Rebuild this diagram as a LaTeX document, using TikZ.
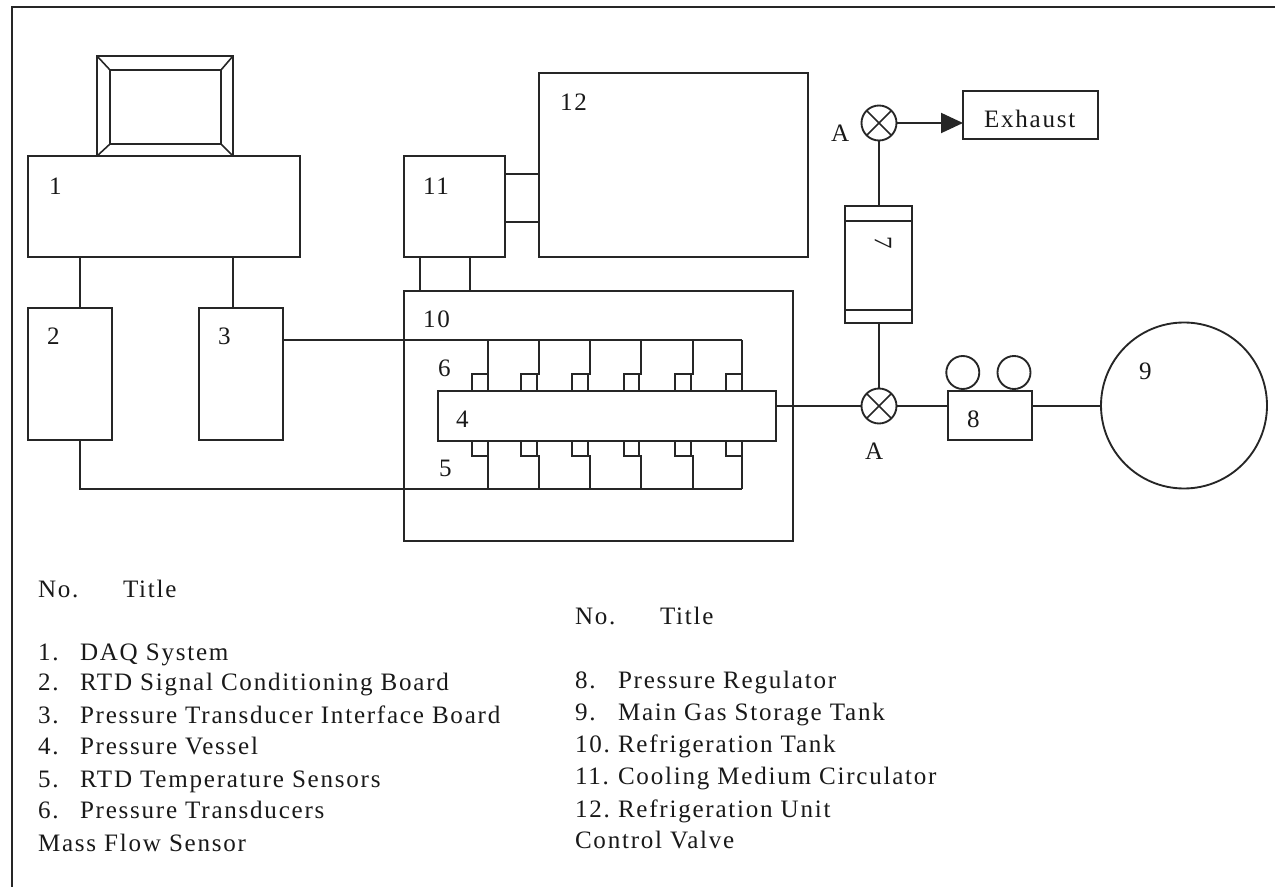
\documentclass[tikz,border=0pt]{standalone}
\usepackage{fontspec}
\setmainfont[LetterSpace=7]{Liberation Serif}
\usetikzlibrary{arrows.meta}
\tikzset{
  ln/.style={line width=1.5pt,black!85},
  pbox/.style={draw=black!85,line width=1.5pt,rectangle,inner sep=0pt,outer sep=0pt},
  disc/.style={draw=black!85,line width=1.4pt,circle,inner sep=0pt,outer sep=0pt},
  txt/.style={anchor=base west,inner sep=0pt,outer sep=0pt,text=black!90,font=\fontsize{18.8pt}{22pt}\selectfont},
  flow/.style={ln,-{Triangle[length=16.5pt,width=15pt]}},
}
\newcommand{\pxbox}[5]{%
  \pgfmathsetmacro{\bw}{(#4-#2)*0.75}%
  \pgfmathsetmacro{\bh}{(#5-#3)*0.75}%
  \pgfmathsetmacro{\bx}{(#2+#4)/2}%
  \pgfmathsetmacro{\by}{(#3+#5)/2}%
  \node[pbox,minimum width=\bw pt,minimum height=\bh pt] (#1) at (\bx,\by) {};}
\begin{document}
\begin{tikzpicture}[x=0.75pt,y=-0.75pt]
\useasboundingbox (0,0) rectangle (1275,887);
% frame
\coordinate (fa) at (12,887);
\coordinate (fb) at (12,7);
\coordinate (fc) at (1275,7);
\draw[ln] (fa) -- (fb) -- (fc);
% monitor
\pxbox{monout}{97}{56}{233}{156}
\pxbox{monin}{110}{70}{221}{144}
\draw[ln,line width=1.2pt] (monout.north west) -- (monin.north west);
\draw[ln,line width=1.2pt] (monout.north east) -- (monin.north east);
\draw[ln,line width=1.2pt] (monout.south west) -- (monin.south west);
\draw[ln,line width=1.2pt] (monout.south east) -- (monin.south east);
% main boxes
\pxbox{b1}{28}{156}{300}{257}
\pxbox{b2}{28}{308}{112}{440}
\pxbox{b3}{199}{308}{283}{440}
\pxbox{b10}{404}{291}{793}{541}
\pxbox{b4}{438}{391}{776}{441}
\pxbox{b11}{404}{156}{505}{257}
\pxbox{b12}{539}{73}{808}{257}
\pxbox{b7}{845}{206}{912}{323}
\pxbox{b8}{948}{391}{1032}{440}
\pxbox{ex}{963}{91}{1098}{139}
\node[disc,minimum size=166*0.75pt] (b9) at (1184,405.5) {};
\node[disc,minimum size=33*0.75pt] (g1) at (962.8,372.5) {};
\node[disc,minimum size=33*0.75pt] (g2) at (1014,372.5) {};
\node[disc,minimum size=35*0.75pt] (va) at (879,123) {};
\node[disc,minimum size=35*0.75pt] (vb) at (879,406) {};
\draw[ln,line width=1.2pt] (va.45) -- (va.225) (va.135) -- (va.315);
\draw[ln,line width=1.2pt] (vb.45) -- (vb.225) (vb.135) -- (vb.315);
% band lines in 7
\coordinate (t7) at (845,221);
\coordinate (u7) at (845,310);
\draw[ln] (t7) -- (t7 -| b7.east);
\draw[ln] (u7) -- (u7 -| b7.east);
% guide coordinates
\coordinate (j2) at (80,300);
\coordinate (j3) at (233,300);
\coordinate (ja) at (420,270);
\coordinate (jb) at (470,270);
\coordinate (ka) at (520,174);
\coordinate (kb) at (520,222);
\coordinate (upb) at (283,340);
\coordinate (lob) at (80,489);
\coordinate (w6a) at (742,340);
\coordinate (w6b) at (742,489);
% connectors
\draw[ln] (b1.south -| j2) -- (b2.north -| j2);
\draw[ln] (b1.south -| j3) -- (b3.north -| j3);
\draw[ln] (b11.south -| ja) -- (b10.north -| ja);
\draw[ln] (b11.south -| jb) -- (b10.north -| jb);
\draw[ln] (b11.east |- ka) -- (b12.west |- ka);
\draw[ln] (b11.east |- kb) -- (b12.west |- kb);
\draw[ln] (b3.east |- upb) -- (w6a);
\draw[ln] (b2.south -| j2) -- (lob) -- (w6b);
\draw[ln] (vb.north) -- (b7.south -| vb.north);
\draw[ln] (b7.north -| va.south) -- (va.south);
\draw[flow] (va.east) -- (ex.west |- va.east);
\draw[ln] (b4.east |- vb.west) -- (vb.west);
\draw[ln] (vb.east) -- (b8.west |- vb.east);
\draw[ln] (b8.east |- vb.east) -- (b9.west |- vb.east);
\draw[ln] (g1.south) -- (g1.south |- b8.north);
\draw[ln] (g2.south) -- (g2.south |- b8.north);
% sensors
\foreach \i/\l/\r/\w in {1/472/488/488,2/521/537/539,3/572/588/590,4/624/639/641,5/675/691/693,6/726/742/742}{
  \pxbox{su\i}{\l}{374}{\r}{391}
  \pxbox{sl\i}{\l}{441}{\r}{456}
  \coordinate (wu\i) at (\w,340);
  \coordinate (wl\i) at (\w,489);
  \draw[ln] (wu\i) -- (wu\i |- su\i.north) -- (su\i.north east);
  \draw[ln] (wl\i) -- (wl\i |- sl\i.south) -- (sl\i.south east);
}
% diagram labels
\node[txt] (n1) at (49,195) {1};
\node[txt] (n2) at (47,345) {2};
\node[txt] (n3) at (218,345) {3};
\node[txt] (n4) at (456,428) {4};
\node[txt] (n5) at (439,477) {5};
\node[txt] (n6) at (438,377) {6};
\node[txt,anchor=center,rotate=-90] (n7) at (883,243) {7};
\node[txt] (n8) at (967,428) {8};
\node[txt] (n9) at (1139,380) {9};
\node[txt] (n10) at (423,328) {10};
\node[txt] (n11) at (423,195) {11};
\node[txt] (n12) at (560,111) {12};
\node[txt] (aup) at (831,142) {A};
\node[txt] (alo) at (865,460) {A};
\node[txt] (extx) at (984,128) {Exhaust};
% legend left
\node[txt] (lh1) at (38,598) {No.};
\node[txt] (lh2) at (123,598) {Title};
\node[txt] (ln1) at (38,661) {1.};
\node[txt] (lt1) at (80,661) {DAQ System};
\node[txt] (ln2) at (38,691) {2.};
\node[txt] (lt2) at (80,691) {RTD Signal Conditioning Board};
\node[txt] (ln3) at (38,723) {3.};
\node[txt] (lt3) at (80,723) {Pressure Transducer Interface Board};
\node[txt] (ln4) at (38,754) {4.};
\node[txt] (lt4) at (80,754) {Pressure Vessel};
\node[txt] (ln5) at (38,787) {5.};
\node[txt] (lt5) at (80,787) {RTD Temperature Sensors};
\node[txt] (ln6) at (38,818) {6.};
\node[txt] (lt6) at (80,818) {Pressure Transducers};
\node[txt] (lm) at (38,851) {Mass Flow Sensor};
% legend right
\node[txt] (rh1) at (575,624) {No.};
\node[txt] (rh2) at (660,624) {Title};
\node[txt] (rn8) at (575,688) {8.};
\node[txt] (rt8) at (618,688) {Pressure Regulator};
\node[txt] (rn9) at (575,720) {9.};
\node[txt] (rt9) at (618,720) {Main Gas Storage Tank};
\node[txt] (rn10) at (575,752) {10.};
\node[txt] (rt10) at (618,752) {Refrigeration Tank};
\node[txt] (rn11) at (575,784) {11.};
\node[txt] (rt11) at (618,784) {Cooling Medium Circulator};
\node[txt] (rn12) at (575,817) {12.};
\node[txt] (rt12) at (618,817) {Refrigeration Unit};
\node[txt] (rc) at (575,848) {Control Valve};
\end{tikzpicture}
\end{document}
